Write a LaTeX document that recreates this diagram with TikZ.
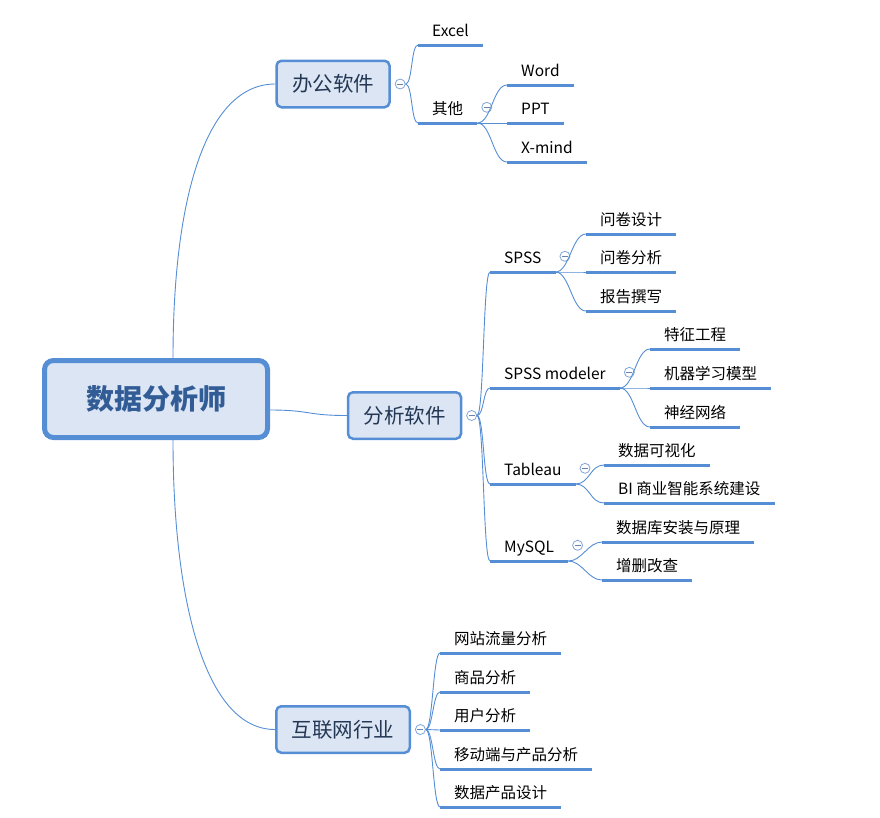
\documentclass[tikz,border=0pt]{standalone}
\usepackage{fontspec}
\setmainfont{Noto Sans CJK SC}
\usetikzlibrary{positioning}
\definecolor{xblue}{RGB}{85,142,213}
\definecolor{xfill}{RGB}{219,229,243}
\definecolor{xtext}{RGB}{35,55,85}
\definecolor{xroot}{RGB}{50,92,150}
\definecolor{xfold}{RGB}{130,165,215}
\begin{document}
\begin{tikzpicture}[x=1pt,y=-1pt] % координаты в пикселях, y вниз
\tikzstyle{rootbox} = [draw=xblue, fill=xfill, line width=5pt, rounded corners=9pt, minimum width=223pt, minimum height=77pt, font=\fontsize{28}{30}\selectfont\bfseries, text=xroot] % central topic
\tikzstyle{topic} = [draw=xblue, fill=xfill, line width=2.5pt, rounded corners=5pt, inner xsep=15.5pt, minimum height=46.5pt, font=\fontsize{20.5}{24}\selectfont, text=xtext] % main topics
\tikzstyle{leaf} = [anchor=south west, inner xsep=14pt, inner ysep=0pt, minimum height=31pt, text height=14pt, text depth=0pt, font=\fontsize{15.5}{18}\selectfont] % подтемы с подчеркиванием
\tikzstyle{fold} = [circle, draw=xfold, fill=white, line width=0.8pt, minimum size=10pt, inner sep=0pt, path picture={\draw[xfold!80!black, line width=0.8pt] (path picture bounding box.center) ++(-3pt,0) -- ++(6pt,0);}] % кнопка свернуть
\tikzstyle{branch} = [draw=xblue, line width=0.9pt]
\tikzstyle{uline} = [draw=xblue, line width=3pt]

\useasboundingbox (0,0) rectangle (880,817);

% корень и главные темы
\node[rootbox] (root) at (156,399) {数据分析师};
\node[topic] (bg) at (333,84) {办公软件};
\node[topic] (fx) at (404.5,415.5) {分析软件};
\node[topic] (hl) at (343,729.5) {互联网行业};
\node[fold, right=4pt of bg] (bgf) {};
\node[fold, right=4pt of fx] (fxf) {};
\node[fold, right=4pt of hl] (hlf) {};

% 办公软件
\node[leaf] (excel) at (418,45) {Excel};
\node[leaf] (qita) at (418,123) {其他};
\node[fold, right=4pt of qita] (qitaf) {};
\node[leaf] (word) at (507,85) {Word};
\node[leaf] (ppt) at (507,123) {PPT};
\node[leaf] (xmind) at (507,162) {X-mind};

% 分析软件
\node[leaf] (spss) at (490,272) {SPSS};
\node[leaf] (modeler) at (490,388) {SPSS modeler};
\node[leaf] (tableau) at (490,484) {Tableau};
\node[leaf] (mysql) at (490,561) {MySQL};
\node[fold, right=4pt of spss] (spssf) {};
\node[fold, right=4pt of modeler] (modelerf) {};
\node[fold, right=4pt of tableau] (tableauf) {};
\node[fold, right=4pt of mysql] (mysqlf) {};
\node[leaf] (wjsj) at (586,234) {问卷设计};
\node[leaf] (wjfx) at (586,272) {问卷分析};
\node[leaf] (bgzx) at (586,311) {报告撰写};
\node[leaf] (tzgc) at (650,349) {特征工程};
\node[leaf] (jqxx) at (650,388) {机器学习模型};
\node[leaf] (sjwl) at (650,427) {神经网络};
\node[leaf] (sjksh) at (604,465) {数据可视化};
\node[leaf] (bi) at (604,503) {BI 商业智能系统建设};
\node[leaf] (sjkaz) at (602,542) {数据库安装与原理};
\node[leaf] (zsgc) at (602,580) {增删改查};

% 互联网行业
\node[leaf] (wzll) at (440,653) {网站流量分析};
\node[leaf] (spfx) at (440,692) {商品分析};
\node[leaf] (yhfx) at (440,730) {用户分析};
\node[leaf] (ydd) at (440,769) {移动端与产品分析};
\node[leaf] (sjcp) at (440,807) {数据产品设计};

% связи
\draw[branch] ([xshift=17pt]root.north) .. controls +(0,-158) and +(-70,0) .. (bg.west);
\draw[branch] ([yshift=-11pt]root.east) .. controls +(40,0) and +(-40,0) .. (fx.west);
\draw[branch] ([xshift=17pt]root.south) .. controls +(0,160) and +(-70,0) .. (hl.west);
\foreach \c in {excel,qita} \draw[branch] (bgf.east) .. controls +(7,0) and +(-7,0) .. (\c.south west);
\foreach \c in {word,ppt,xmind} \draw[branch] (qita.south east) .. controls +(14,0) and +(-14,0) .. (\c.south west);
\foreach \c in {spss,modeler,tableau,mysql} \draw[branch] (fxf.east) .. controls +(7,0) and +(-7,0) .. (\c.south west);
\foreach \c in {wjsj,wjfx,bgzx} \draw[branch] (spss.south east) .. controls +(14,0) and +(-14,0) .. (\c.south west);
\foreach \c in {tzgc,jqxx,sjwl} \draw[branch] (modeler.south east) .. controls +(14,0) and +(-14,0) .. (\c.south west);
\foreach \c in {sjksh,bi} \draw[branch] (tableau.south east) .. controls +(14,0) and +(-14,0) .. (\c.south west);
\foreach \c in {sjkaz,zsgc} \draw[branch] (mysql.south east) .. controls +(14,0) and +(-14,0) .. (\c.south west);
\foreach \c in {wzll,spfx,yhfx,ydd,sjcp} \draw[branch] (hlf.east) .. controls +(7,0) and +(-7,0) .. (\c.south west);

% подчеркивания
\foreach \n in {excel,qita,word,ppt,xmind,spss,modeler,tableau,mysql,wjsj,wjfx,bgzx,tzgc,jqxx,sjwl,sjksh,bi,sjkaz,zsgc,wzll,spfx,yhfx,ydd,sjcp}
  \draw[uline] (\n.south west) -- (\n.south east);
\end{tikzpicture}
\end{document}
